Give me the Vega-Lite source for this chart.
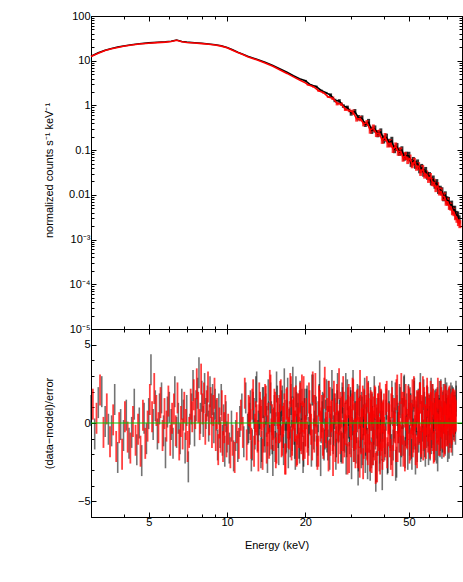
{
"$schema": "https://vega.github.io/schema/vega-lite/v6.json",
"autosize": {"type": "pad"},
"padding": {"left": 42, "top": 9, "right": 1, "bottom": 5},
"background": "white",
"config": {
 "font": "Liberation Sans",
 "view": {"stroke": "#000000", "strokeWidth": 1},
 "axis": {"grid": false, "domainColor": "#000000", "tickColor": "#000000", "labelColor": "#000000", "titleColor": "#000000", "labelFontSize": 11, "titleFontSize": 11, "titleFontWeight": "normal", "labelOverlap": false, "labelFlush": false, "labelBound": false, "tickWidth": 1, "domainWidth": 1}
},
"datasets": {
"spec": [
{"e":3,"g":"1","y":12.6},{"e":3.2,"g":"1","y":15},{"e":3.4,"g":"1","y":17.2},{"e":3.6,"g":"1","y":18.8},{"e":3.8,"g":"1","y":20.2},{"e":4,"g":"1","y":21.4},{"e":4.3,"g":"1","y":22.8},{"e":4.6,"g":"1","y":24},{"e":5,"g":"1","y":25},{"e":5.4,"g":"1","y":25.8},{"e":5.8,"g":"1","y":26.5},{"e":6.1,"g":"1","y":27.2},{"e":6.4,"g":"1","y":29},{"e":6.7,"g":"1","y":27},{"e":7,"g":"1","y":26},{"e":7.5,"g":"1","y":25.3},{"e":8,"g":"1","y":24.5},{"e":8.5,"g":"1","y":23.7},{"e":9,"g":"1","y":22.8},{"e":9.5,"g":"1","y":21.6},{"e":10,"g":"1","y":19.8},{"e":10.5,"g":"1","y":17.5},{"e":11,"g":"1","y":15.5},{"e":11.5,"g":"1","y":14},{"e":12,"g":"1","y":12.6},{"e":13,"g":"1","y":10.8},{"e":14,"g":"1","y":9.2},{"e":15,"g":"1","y":7.8},{"e":16,"g":"1","y":6.5},{"e":17,"g":"1","y":5.5},{"e":18,"g":"1","y":4.6},{"e":19,"g":"1","y":3.95},
{"e":20,"g":"1","y":3.55,"lo":3.39,"hi":3.72},{"e":21,"g":"1","y":2.86,"lo":2.73,"hi":2.99},{"e":22,"g":"1","y":2.65,"lo":2.53,"hi":2.77},{"e":23,"g":"1","y":2.16,"lo":2.06,"hi":2.26},{"e":24,"g":"1","y":1.92,"lo":1.83,"hi":2.01},
{"e":25,"g":"1","y":1.7,"lo":1.55,"hi":1.86},{"e":26,"g":"1","y":1.29,"lo":1.18,"hi":1.41},{"e":27,"g":"1","y":1.26,"lo":1.15,"hi":1.38},{"e":28,"g":"1","y":0.97,"lo":0.885,"hi":1.06},{"e":29,"g":"1","y":0.9,"lo":0.82,"hi":0.99},
{"e":30,"g":"1","y":0.68,"lo":0.59,"hi":0.78},{"e":31,"g":"1","y":0.72,"lo":0.63,"hi":0.83},{"e":32,"g":"1","y":0.53,"lo":0.46,"hi":0.61},{"e":33,"g":"1","y":0.52,"lo":0.455,"hi":0.6},{"e":34,"g":"1","y":0.378,"lo":0.329,"hi":0.434},
{"e":35,"g":"1","y":0.416,"lo":0.346,"hi":0.5},{"e":36,"g":"1","y":0.278,"lo":0.231,"hi":0.334},{"e":37,"g":"1","y":0.297,"lo":0.247,"hi":0.357},{"e":38,"g":"1","y":0.233,"lo":0.194,"hi":0.28},{"e":39,"g":"1","y":0.255,"lo":0.212,"hi":0.307},
{"e":40,"g":"1","y":0.174,"lo":0.141,"hi":0.214},{"e":41,"g":"1","y":0.19,"lo":0.155,"hi":0.234},{"e":42,"g":"1","y":0.146,"lo":0.119,"hi":0.18},{"e":43,"g":"1","y":0.162,"lo":0.132,"hi":0.199},{"e":44,"g":"1","y":0.105,"lo":0.0854,"hi":0.129},{"e":45,"g":"1","y":0.117,"lo":0.095,"hi":0.144},{"e":46,"g":"1","y":0.092,"lo":0.0748,"hi":0.113},{"e":47,"g":"1","y":0.0994,"lo":0.0808,"hi":0.122},{"e":48,"g":"1","y":0.0711,"lo":0.0578,"hi":0.0875},{"e":49,"g":"1","y":0.0749,"lo":0.0609,"hi":0.0921},
{"e":50,"g":"1","y":0.0748,"lo":0.0608,"hi":0.092},{"e":51,"g":"1","y":0.0519,"lo":0.0422,"hi":0.0638},{"e":52,"g":"1","y":0.0572,"lo":0.0465,"hi":0.0704},{"e":53,"g":"1","y":0.047,"lo":0.0382,"hi":0.0578},{"e":54,"g":"1","y":0.0504,"lo":0.041,"hi":0.062},{"e":55,"g":"1","y":0.0373,"lo":0.0303,"hi":0.0459},{"e":56,"g":"1","y":0.04,"lo":0.0325,"hi":0.0492},{"e":57,"g":"1","y":0.0312,"lo":0.0254,"hi":0.0384},{"e":58,"g":"1","y":0.0342,"lo":0.0278,"hi":0.0421},{"e":59,"g":"1","y":0.0267,"lo":0.0217,"hi":0.0328},
{"e":60,"g":"1","y":0.0263,"lo":0.0214,"hi":0.0323},{"e":61,"g":"1","y":0.02,"lo":0.0163,"hi":0.0246},{"e":62,"g":"1","y":0.022,"lo":0.0179,"hi":0.0271},{"e":63,"g":"1","y":0.0169,"lo":0.0137,"hi":0.0208},{"e":64,"g":"1","y":0.0183,"lo":0.0149,"hi":0.0225},{"e":65,"g":"1","y":0.0129,"lo":0.0105,"hi":0.0159},{"e":66,"g":"1","y":0.013,"lo":0.0106,"hi":0.016},{"e":67,"g":"1","y":0.012,"lo":0.00976,"hi":0.0148},{"e":68,"g":"1","y":0.00882,"lo":0.00717,"hi":0.0108},{"e":69,"g":"1","y":0.00974,"lo":0.00792,"hi":0.012},
{"e":70,"g":"1","y":0.00757,"lo":0.00615,"hi":0.00931},{"e":71,"g":"1","y":0.00731,"lo":0.00594,"hi":0.00899},{"e":72,"g":"1","y":0.00577,"lo":0.00469,"hi":0.0071},{"e":73,"g":"1","y":0.00605,"lo":0.00492,"hi":0.00744},{"e":74,"g":"1","y":0.00461,"lo":0.00375,"hi":0.00567},{"e":75,"g":"1","y":0.00464,"lo":0.00377,"hi":0.00571},{"e":76,"g":"1","y":0.00357,"lo":0.0029,"hi":0.00439},{"e":77,"g":"1","y":0.00347,"lo":0.00282,"hi":0.00427},{"e":78,"g":"1","y":0.00284,"lo":0.00231,"hi":0.00349},
{"e":3,"g":"2","y":12.4},{"e":3.2,"g":"2","y":14.7},{"e":3.4,"g":"2","y":16.9},{"e":3.6,"g":"2","y":18.5},{"e":3.8,"g":"2","y":19.8},{"e":4,"g":"2","y":21},{"e":4.3,"g":"2","y":22.4},{"e":4.6,"g":"2","y":23.6},{"e":5,"g":"2","y":24.6},{"e":5.4,"g":"2","y":25.4},{"e":5.8,"g":"2","y":26.1},{"e":6.1,"g":"2","y":26.8},{"e":6.4,"g":"2","y":28.6},{"e":6.7,"g":"2","y":26.6},{"e":7,"g":"2","y":25.6},{"e":7.5,"g":"2","y":24.9},{"e":8,"g":"2","y":24.1},{"e":8.5,"g":"2","y":23.3},{"e":9,"g":"2","y":22.4},{"e":9.5,"g":"2","y":21.2},{"e":10,"g":"2","y":19.4},{"e":10.5,"g":"2","y":17.2},{"e":11,"g":"2","y":15.2},{"e":11.5,"g":"2","y":13.7},{"e":12,"g":"2","y":12.3},{"e":13,"g":"2","y":10.5},{"e":14,"g":"2","y":8.9},{"e":15,"g":"2","y":7.5},{"e":16,"g":"2","y":6.2},{"e":17,"g":"2","y":5.2},{"e":18,"g":"2","y":4.35},{"e":19,"g":"2","y":3.7},{"e":20,"g":"2","y":3.2},
{"e":20.5,"g":"2","y":2.91,"lo":2.78,"hi":3.05},{"e":21.5,"g":"2","y":2.63,"lo":2.51,"hi":2.75},{"e":22.5,"g":"2","y":2.13,"lo":2.03,"hi":2.23},{"e":23.5,"g":"2","y":1.93,"lo":1.84,"hi":2.02},{"e":24.5,"g":"2","y":1.55,"lo":1.48,"hi":1.62},
{"e":25.5,"g":"2","y":1.45,"lo":1.32,"hi":1.59},{"e":26.5,"g":"2","y":1.1,"lo":1.0,"hi":1.21},{"e":27.5,"g":"2","y":1.07,"lo":0.976,"hi":1.17},{"e":28.5,"g":"2","y":0.822,"lo":0.75,"hi":0.9},{"e":29.5,"g":"2","y":0.774,"lo":0.706,"hi":0.848},
{"e":30.5,"g":"2","y":0.706,"lo":0.615,"hi":0.81},{"e":31.5,"g":"2","y":0.498,"lo":0.434,"hi":0.572},{"e":32.5,"g":"2","y":0.508,"lo":0.442,"hi":0.583},{"e":33.5,"g":"2","y":0.39,"lo":0.34,"hi":0.448},{"e":34.5,"g":"2","y":0.41,"lo":0.357,"hi":0.471},
{"e":35.5,"g":"2","y":0.28,"lo":0.233,"hi":0.337},{"e":36.5,"g":"2","y":0.312,"lo":0.26,"hi":0.375},{"e":37.5,"g":"2","y":0.235,"lo":0.196,"hi":0.282},{"e":38.5,"g":"2","y":0.239,"lo":0.199,"hi":0.287},{"e":39.5,"g":"2","y":0.166,"lo":0.138,"hi":0.2},
{"e":40.5,"g":"2","y":0.197,"lo":0.16,"hi":0.242},{"e":41.5,"g":"2","y":0.14,"lo":0.114,"hi":0.172},{"e":42.5,"g":"2","y":0.142,"lo":0.115,"hi":0.175},{"e":43.5,"g":"2","y":0.106,"lo":0.0862,"hi":0.13},{"e":44.5,"g":"2","y":0.121,"lo":0.0984,"hi":0.149},{"e":45.5,"g":"2","y":0.092,"lo":0.0748,"hi":0.113},{"e":46.5,"g":"2","y":0.0943,"lo":0.0767,"hi":0.116},{"e":47.5,"g":"2","y":0.0676,"lo":0.055,"hi":0.0831},{"e":48.5,"g":"2","y":0.0744,"lo":0.0605,"hi":0.0915},{"e":49.5,"g":"2","y":0.0599,"lo":0.0487,"hi":0.0737},
{"e":50.5,"g":"2","y":0.0648,"lo":0.0527,"hi":0.0797},{"e":51.5,"g":"2","y":0.0483,"lo":0.0393,"hi":0.0594},{"e":52.5,"g":"2","y":0.0548,"lo":0.0446,"hi":0.0674},{"e":53.5,"g":"2","y":0.0425,"lo":0.0346,"hi":0.0523},{"e":54.5,"g":"2","y":0.0438,"lo":0.0356,"hi":0.0539},{"e":55.5,"g":"2","y":0.0326,"lo":0.0265,"hi":0.0401},{"e":56.5,"g":"2","y":0.0377,"lo":0.0307,"hi":0.0464},{"e":57.5,"g":"2","y":0.0284,"lo":0.0231,"hi":0.0349},{"e":58.5,"g":"2","y":0.0287,"lo":0.0233,"hi":0.0353},{"e":59.5,"g":"2","y":0.0227,"lo":0.0185,"hi":0.0279},
{"e":60.5,"g":"2","y":0.025,"lo":0.0203,"hi":0.0308},{"e":61.5,"g":"2","y":0.0193,"lo":0.0157,"hi":0.0237},{"e":62.5,"g":"2","y":0.0187,"lo":0.0152,"hi":0.023},{"e":63.5,"g":"2","y":0.0142,"lo":0.0115,"hi":0.0175},{"e":64.5,"g":"2","y":0.0156,"lo":0.0127,"hi":0.0192},{"e":65.5,"g":"2","y":0.0119,"lo":0.00967,"hi":0.0146},{"e":66.5,"g":"2","y":0.0119,"lo":0.00967,"hi":0.0146},{"e":67.5,"g":"2","y":0.00911,"lo":0.00741,"hi":0.0112},{"e":68.5,"g":"2","y":0.00918,"lo":0.00746,"hi":0.0113},{"e":69.5,"g":"2","y":0.00702,"lo":0.00571,"hi":0.00863},
{"e":70.5,"g":"2","y":0.00699,"lo":0.00568,"hi":0.0086},{"e":71.5,"g":"2","y":0.00568,"lo":0.00462,"hi":0.00699},{"e":72.5,"g":"2","y":0.00544,"lo":0.00442,"hi":0.00669},{"e":73.5,"g":"2","y":0.00431,"lo":0.0035,"hi":0.0053},{"e":74.5,"g":"2","y":0.00409,"lo":0.00333,"hi":0.00503},{"e":75.5,"g":"2","y":0.00333,"lo":0.00271,"hi":0.0041},{"e":76.5,"g":"2","y":0.00292,"lo":0.00237,"hi":0.00359},{"e":77.5,"g":"2","y":0.00246,"lo":0.002,"hi":0.00303},{"e":78.5,"g":"2","y":0.00221,"lo":0.0018,"hi":0.00272}
],
"res1": [
{"e":3.0,"r":0.8},{"e":3.1,"r":-0.7},{"e":3.2,"r":1.3},{"e":3.3,"r":2.0},{"e":3.4,"r":0.1},{"e":3.5,"r":-0.4},{"e":3.6,"r":-0.5},{"e":3.7,"r":1.5},{"e":3.8,"r":-2.2},{"e":3.9,"r":-0.1},{"e":4.0,"r":-0.8},{"e":4.1,"r":0.5},{"e":4.2,"r":-1.3},{"e":4.3,"r":-0.6},{"e":4.4,"r":1.2},{"e":4.5,"r":-1.7},{"e":4.6,"r":0.0},{"e":4.7,"r":-2.4},{"e":4.8,"r":0.3},{"e":4.9,"r":-1.0},{"e":5.0,"r":0.6},{"e":5.1,"r":3.4},{"e":5.2,"r":-0.1},{"e":5.3,"r":1.1},{"e":5.4,"r":-0.7},{"e":5.5,"r":0.9},{"e":5.6,"r":1.6},{"e":5.7,"r":-0.5},{"e":5.8,"r":-1.9},{"e":5.9,"r":0.7},{"e":6.0,"r":1.0},{"e":6.1,"r":-0.1},{"e":6.2,"r":-1.3},{"e":6.3,"r":2.0},{"e":6.4,"r":-0.6},{"e":6.5,"r":0.3},{"e":6.6,"r":-1.0},{"e":6.7,"r":1.2},{"e":6.8,"r":0.5},{"e":6.9,"r":-1.6},{"e":7.0,"r":0.8},{"e":7.1,"r":-2.8},{"e":7.2,"r":-0.4},{"e":7.3,"r":0.9},{"e":7.4,"r":2.4},{"e":7.5,"r":-0.5},{"e":7.6,"r":1.1},{"e":7.7,"r":1.9},{"e":7.8,"r":3.2},{"e":7.9,"r":0.3},{"e":8.0,"r":1.7},{"e":8.1,"r":0.1},{"e":8.2,"r":2.2},{"e":8.3,"r":0.6},{"e":8.4,"r":1.4},{"e":8.5,"r":-0.2},{"e":8.6,"r":2.0},{"e":8.7,"r":0.9},{"e":8.8,"r":1.5},{"e":8.9,"r":-0.3},{"e":9.0,"r":1.2},{"e":9.1,"r":0.5},{"e":9.2,"r":-1.4},{"e":9.3,"r":0.9},{"e":9.4,"r":-0.6},{"e":9.5,"r":1.5},{"e":9.6,"r":-1.1},{"e":9.7,"r":0.2},{"e":9.8,"r":-1.8},{"e":9.9,"r":0.4},{"e":10.0,"r":-0.9},
{"e":10.2,"r":-1.6},{"e":10.4,"r":-0.2},{"e":10.6,"r":-2.1},{"e":10.8,"r":-0.8},{"e":11.0,"r":-1.5},{"e":11.2,"r":0.1},{"e":11.4,"r":0.9},{"e":11.6,"r":-1.2},{"e":11.8,"r":1.6},{"e":12.0,"r":-0.4},{"e":12.2,"r":0.3},{"e":12.4,"r":-2.1},{"e":12.6,"r":1.0},{"e":12.8,"r":-0.7},{"e":13.0,"r":2.3},{"e":13.2,"r":-0.2},{"e":13.4,"r":0.6},{"e":13.6,"r":-1.5},{"e":13.8,"r":1.3},{"e":14.0,"r":-0.9},{"e":14.2,"r":0.1},{"e":14.4,"r":1.8},{"e":14.6,"r":-1.1},{"e":14.8,"r":0.4},{"e":15.0,"r":-2.4},{"e":15.2,"r":0.8},{"e":15.4,"r":-0.3},{"e":15.6,"r":1.4},{"e":15.8,"r":-1.7},{"e":16.0,"r":0.2},{"e":16.2,"r":1.1},{"e":16.4,"r":-0.6},{"e":16.6,"r":2.5},{"e":16.8,"r":-1.0},{"e":17.0,"r":0.5},{"e":17.2,"r":-1.9},{"e":17.4,"r":0.0},{"e":17.6,"r":1.5},{"e":17.8,"r":-0.8},{"e":18.0,"r":0.7},{"e":18.2,"r":-1.3},{"e":18.4,"r":2.0},{"e":18.6,"r":-0.4},{"e":18.8,"r":0.9},{"e":19.0,"r":-1.6},{"e":19.2,"r":0.3},{"e":19.4,"r":1.2},{"e":19.6,"r":-2.2},{"e":19.8,"r":0.6},{"e":20.0,"r":-0.5},
{"e":20.3,"r":1.4},{"e":20.6,"r":-1.1},{"e":20.9,"r":0.2},{"e":21.2,"r":2.1},{"e":21.5,"r":-0.7},{"e":21.8,"r":0.8},{"e":22.1,"r":-1.8},{"e":22.4,"r":0.4},{"e":22.7,"r":3.0},{"e":23.0,"r":-0.3},{"e":23.3,"r":1.0},{"e":23.6,"r":-1.4},{"e":23.9,"r":0.5},{"e":24.2,"r":-0.9},{"e":24.5,"r":1.7},{"e":24.8,"r":-2.0},{"e":25.1,"r":0.1},{"e":25.4,"r":1.2},{"e":25.7,"r":-0.5},{"e":26.0,"r":0.9},{"e":26.3,"r":-1.2},{"e":26.6,"r":2.2},{"e":26.9,"r":-0.2},{"e":27.2,"r":0.6},{"e":27.5,"r":-1.6},{"e":27.8,"r":1.3},{"e":28.1,"r":-0.8},{"e":28.4,"r":0.3},{"e":28.7,"r":-2.3},{"e":29.0,"r":1.8},{"e":29.3,"r":0.0},{"e":29.6,"r":-1.0},{"e":29.9,"r":1.1},{"e":30.2,"r":-0.6},{"e":30.5,"r":2.4},{"e":30.8,"r":-1.5},{"e":31.1,"r":0.4},{"e":31.4,"r":-0.3},{"e":31.7,"r":1.5},{"e":32.0,"r":-2.1},{"e":32.3,"r":0.7},{"e":32.6,"r":-0.9},{"e":32.9,"r":1.0},{"e":33.2,"r":-1.7},{"e":33.5,"r":0.2},{"e":33.8,"r":1.9},{"e":34.1,"r":-1.1},{"e":34.4,"r":0.5},{"e":34.7,"r":-2.6},{"e":35.0,"r":0.9},{"e":35.3,"r":-0.4},{"e":35.6,"r":1.3},{"e":35.9,"r":-1.9},{"e":36.2,"r":0.1},{"e":36.5,"r":-1.2},{"e":36.8,"r":2.0},{"e":37.1,"r":-0.7},{"e":37.4,"r":-2.8},{"e":37.7,"r":0.6},{"e":38.0,"r":-0.5},{"e":38.3,"r":1.4},{"e":38.6,"r":-1.6},{"e":38.9,"r":-0.2},{"e":39.2,"r":1.1},{"e":39.5,"r":-3.3},{"e":39.8,"r":0.3},
{"e":40.5,"r":-1.0},{"e":41.0,"r":1.2},{"e":41.5,"r":-2.2},{"e":42.0,"r":0.4},{"e":42.5,"r":-0.8},{"e":43.0,"r":1.7},{"e":43.5,"r":-1.4},{"e":44.0,"r":0.0},{"e":44.5,"r":-2.7},{"e":45.0,"r":0.8},{"e":45.5,"r":-0.3},{"e":46.0,"r":1.5},{"e":46.5,"r":-1.8},{"e":47.0,"r":0.6},{"e":47.5,"r":-1.1},{"e":48.0,"r":2.1},{"e":48.5,"r":-0.5},{"e":49.0,"r":0.9},{"e":49.5,"r":-2.0},{"e":50.0,"r":0.3},{"e":50.5,"r":1.3},{"e":51.0,"r":-1.3},{"e":51.5,"r":0.5},{"e":52.0,"r":-0.7},{"e":52.5,"r":1.9},{"e":53.0,"r":-2.3},{"e":53.5,"r":0.2},{"e":54.0,"r":1.0},{"e":54.5,"r":-0.9},{"e":55.0,"r":1.6},{"e":55.5,"r":-1.5},{"e":56.0,"r":0.4},{"e":56.5,"r":-0.2},{"e":57.0,"r":1.8},{"e":57.5,"r":-1.2},{"e":58.0,"r":0.7},{"e":58.5,"r":-0.6},{"e":59.0,"r":1.3},{"e":59.5,"r":-1.7},{"e":60.0,"r":0.1},{"e":60.5,"r":0.9},{"e":61.0,"r":-1.0},{"e":61.5,"r":1.5},{"e":62.0,"r":-0.4},{"e":62.5,"r":0.6},{"e":63.0,"r":-1.4},{"e":63.5,"r":1.2},{"e":64.0,"r":0.0},{"e":64.5,"r":-2.1},{"e":65.0,"r":0.8},{"e":65.5,"r":1.7},{"e":66.0,"r":-0.8},{"e":66.5,"r":0.4},{"e":67.0,"r":-1.3},{"e":67.5,"r":1.0},{"e":68.0,"r":0.3},{"e":68.5,"r":-0.9},{"e":69.0,"r":1.9},{"e":69.5,"r":-0.1},{"e":70.0,"r":0.6},{"e":70.5,"r":-1.5},{"e":71.0,"r":1.2},{"e":71.5,"r":0.2},{"e":72.0,"r":-0.6},{"e":72.5,"r":1.6},{"e":73.0,"r":0.5},{"e":73.5,"r":-1.1},{"e":74.0,"r":1.3},{"e":74.5,"r":0.1},{"e":75.0,"r":0.8},{"e":75.5,"r":-0.4},{"e":76.0,"r":1.4},
{"e":12.1,"r":-0.3},{"e":12.3,"r":1.1},{"e":12.5,"r":-1.4},{"e":12.7,"r":0.6},{"e":12.9,"r":2.0},{"e":13.1,"r":-0.8},{"e":13.3,"r":0.2},{"e":13.5,"r":-1.9},{"e":13.7,"r":1.3},{"e":13.9,"r":-0.5},{"e":14.1,"r":0.9},{"e":14.3,"r":-2.2},{"e":14.5,"r":0.4},{"e":14.7,"r":1.6},{"e":14.9,"r":-1.0},{"e":15.1,"r":0.0},{"e":15.3,"r":-1.5},{"e":15.5,"r":2.3},{"e":15.7,"r":-0.6},{"e":15.9,"r":0.8},{"e":16.1,"r":-0.2},{"e":16.3,"r":1.4},{"e":16.5,"r":-1.7},{"e":16.7,"r":0.5},{"e":16.9,"r":-0.9},{"e":17.1,"r":1.9},{"e":17.3,"r":-0.1},{"e":17.5,"r":-1.2},{"e":17.7,"r":0.7},{"e":17.9,"r":2.6},{"e":18.1,"r":-0.4},{"e":18.3,"r":-2.0},{"e":18.5,"r":1.0},{"e":18.7,"r":0.3},{"e":18.9,"r":-1.3},{"e":19.1,"r":1.7},{"e":19.3,"r":-0.7},{"e":19.5,"r":0.1},{"e":19.7,"r":-1.8},{"e":19.9,"r":1.2},
{"e":20.2,"r":1.2},{"e":20.5,"r":-0.6},{"e":20.8,"r":0.3},{"e":21.1,"r":-1.8},{"e":21.4,"r":2.1},{"e":21.7,"r":-0.2},{"e":22.0,"r":0.7},{"e":22.3,"r":-1.1},{"e":22.6,"r":1.5},{"e":22.9,"r":-2.4},{"e":23.2,"r":0.4},{"e":23.5,"r":0.9},{"e":23.8,"r":-0.7},{"e":24.1,"r":1.8},{"e":24.4,"r":-1.4},{"e":24.7,"r":0.1},{"e":25.0,"r":-0.4},{"e":25.3,"r":2.4},{"e":25.6,"r":-1.0},{"e":25.9,"r":0.6},{"e":26.2,"r":-2.0},{"e":26.5,"r":1.1},{"e":26.8,"r":-0.3},{"e":27.1,"r":0.5},{"e":27.4,"r":-1.5},{"e":27.7,"r":1.6},{"e":28.0,"r":0.0},{"e":28.3,"r":-0.9},{"e":28.6,"r":2.2},{"e":28.9,"r":-1.2},{"e":29.2,"r":0.8},{"e":29.5,"r":-0.5},{"e":29.8,"r":1.3},{"e":30.1,"r":-2.6},{"e":30.4,"r":0.2},{"e":30.7,"r":-0.8},{"e":31.0,"r":1.0},{"e":31.3,"r":-1.6},{"e":31.6,"r":0.4},{"e":31.9,"r":-3.0},{"e":32.2,"r":1.4},{"e":32.5,"r":-0.6},{"e":32.8,"r":-1.9},{"e":33.1,"r":0.7},{"e":33.4,"r":-0.1},{"e":33.7,"r":1.1},{"e":34.0,"r":-2.2},{"e":34.3,"r":0.3},{"e":34.6,"r":-1.3},{"e":34.9,"r":1.7},{"e":35.2,"r":-0.9},{"e":35.5,"r":-2.7},{"e":35.8,"r":0.5},{"e":36.1,"r":0.9},{"e":36.4,"r":-1.7},{"e":36.7,"r":-0.4},{"e":37.0,"r":1.2},{"e":37.3,"r":-3.4},{"e":37.6,"r":0.0},{"e":37.9,"r":-1.1},{"e":38.2,"r":0.6},{"e":38.5,"r":-2.1},{"e":38.8,"r":-0.7},{"e":39.1,"r":1.0},{"e":39.4,"r":-1.4},{"e":39.7,"r":-0.2},
{"e":40.35,"r":-1.4},{"e":40.85,"r":0.5},{"e":41.35,"r":-2.3},{"e":41.85,"r":1.1},{"e":42.35,"r":-0.6},{"e":42.85,"r":-1.7},{"e":43.35,"r":0.8},{"e":43.85,"r":-0.2},{"e":44.35,"r":1.6},{"e":44.85,"r":-2.5},{"e":45.35,"r":0.3},{"e":45.85,"r":-0.9},{"e":46.35,"r":1.3},{"e":46.85,"r":-1.2},{"e":47.35,"r":0.6},{"e":47.85,"r":2.0},{"e":48.35,"r":-1.9},{"e":48.85,"r":0.0},{"e":49.35,"r":-0.4},{"e":49.85,"r":1.5},{"e":50.35,"r":-1.1},{"e":50.85,"r":0.9},{"e":51.35,"r":-2.0},{"e":51.85,"r":0.2},{"e":52.35,"r":1.7},{"e":52.85,"r":-0.7},{"e":53.35,"r":0.4},{"e":53.85,"r":-1.5},{"e":54.35,"r":1.2},{"e":54.85,"r":-0.3},{"e":55.35,"r":2.2},{"e":55.85,"r":-1.3},{"e":56.35,"r":0.7},{"e":56.85,"r":-0.8},{"e":57.35,"r":1.0},{"e":57.85,"r":-1.8},{"e":58.35,"r":0.1},{"e":58.85,"r":1.4},{"e":59.35,"r":-0.5},{"e":59.85,"r":0.8},{"e":60.35,"r":-1.4},{"e":60.85,"r":1.9},{"e":61.35,"r":-0.6},{"e":61.85,"r":0.3},{"e":62.35,"r":-1.0},{"e":62.85,"r":1.1},{"e":63.35,"r":0.5},{"e":63.85,"r":-1.6},{"e":64.35,"r":1.3},{"e":64.85,"r":-0.2},{"e":65.35,"r":0.6},{"e":65.85,"r":-1.2},{"e":66.35,"r":1.8},{"e":66.85,"r":0.0},{"e":67.35,"r":-0.9},{"e":67.85,"r":1.5},{"e":68.35,"r":0.4},{"e":68.85,"r":-1.1},{"e":69.35,"r":0.9},{"e":69.85,"r":1.6},{"e":70.35,"r":-0.4},{"e":70.85,"r":0.7},{"e":71.35,"r":-1.3},{"e":71.85,"r":1.2},{"e":72.35,"r":0.2},{"e":72.85,"r":-0.6},{"e":73.35,"r":1.4},{"e":73.85,"r":0.8},{"e":74.35,"r":-0.1},{"e":74.85,"r":1.0},{"e":75.35,"r":0.3},{"e":75.85,"r":1.7}
],
"res2": [
{"e":3.05,"r":1.2},{"e":3.15,"r":0.3},{"e":3.25,"r":2.1},{"e":3.35,"r":-0.6},{"e":3.45,"r":0.9},{"e":3.55,"r":-1.2},{"e":3.65,"r":0.2},{"e":3.75,"r":-1.5},{"e":3.85,"r":-0.3},{"e":3.95,"r":-2.0},{"e":4.05,"r":0.4},{"e":4.15,"r":-0.9},{"e":4.25,"r":-1.6},{"e":4.35,"r":0.1},{"e":4.45,"r":-1.1},{"e":4.55,"r":-0.4},{"e":4.65,"r":-1.8},{"e":4.75,"r":0.5},{"e":4.85,"r":-1.3},{"e":4.95,"r":-0.2},{"e":5.05,"r":1.5},{"e":5.15,"r":0.4},{"e":5.25,"r":2.2},{"e":5.35,"r":0.8},{"e":5.45,"r":-0.3},{"e":5.55,"r":1.3},{"e":5.65,"r":-0.8},{"e":5.75,"r":0.6},{"e":5.85,"r":-0.2},{"e":5.95,"r":1.4},{"e":6.05,"r":-1.1},{"e":6.15,"r":0.3},{"e":6.25,"r":0.9},{"e":6.35,"r":-0.5},{"e":6.45,"r":1.6},{"e":6.55,"r":-1.4},{"e":6.65,"r":0.1},{"e":6.75,"r":-0.7},{"e":6.85,"r":1.0},{"e":6.95,"r":-0.1},{"e":7.05,"r":-1.5},{"e":7.15,"r":-0.6},{"e":7.25,"r":1.2},{"e":7.35,"r":0.4},{"e":7.45,"r":1.8},{"e":7.55,"r":0.6},{"e":7.65,"r":2.5},{"e":7.75,"r":1.0},{"e":7.85,"r":-0.1},{"e":7.95,"r":2.8},{"e":8.05,"r":0.9},{"e":8.15,"r":1.6},{"e":8.25,"r":-0.4},{"e":8.35,"r":1.1},{"e":8.45,"r":2.3},{"e":8.55,"r":0.2},{"e":8.65,"r":1.3},{"e":8.75,"r":-0.6},{"e":8.85,"r":0.8},{"e":8.95,"r":1.9},{"e":9.05,"r":-0.8},{"e":9.15,"r":0.6},{"e":9.25,"r":-1.7},{"e":9.35,"r":0.0},{"e":9.45,"r":-0.9},{"e":9.55,"r":1.1},{"e":9.65,"r":-1.5},{"e":9.75,"r":-0.3},{"e":9.85,"r":0.8},{"e":9.95,"r":-1.2},
{"e":10.1,"r":-0.4},{"e":10.3,"r":-1.9},{"e":10.5,"r":-1.1},{"e":10.7,"r":-2.2},{"e":10.9,"r":-0.3},{"e":11.1,"r":-1.3},{"e":11.3,"r":0.5},{"e":11.5,"r":-0.6},{"e":11.7,"r":1.9},{"e":11.9,"r":-1.4},{"e":12.1,"r":0.8},{"e":12.3,"r":-0.1},{"e":12.5,"r":1.2},{"e":12.7,"r":-1.8},{"e":12.9,"r":0.4},{"e":13.1,"r":-0.9},{"e":13.3,"r":1.6},{"e":13.5,"r":0.1},{"e":13.7,"r":-2.0},{"e":13.9,"r":0.7},{"e":14.1,"r":1.4},{"e":14.3,"r":-0.5},{"e":14.5,"r":-1.3},{"e":14.7,"r":2.1},{"e":14.9,"r":0.2},{"e":15.1,"r":-0.8},{"e":15.3,"r":1.0},{"e":15.5,"r":-1.6},{"e":15.7,"r":0.6},{"e":15.9,"r":-0.3},{"e":16.1,"r":1.8},{"e":16.3,"r":-1.1},{"e":16.5,"r":0.3},{"e":16.7,"r":-2.3},{"e":16.9,"r":1.2},{"e":17.1,"r":0.0},{"e":17.3,"r":-0.7},{"e":17.5,"r":2.2},{"e":17.7,"r":-1.4},{"e":17.9,"r":0.5},{"e":18.1,"r":1.3},{"e":18.3,"r":-0.2},{"e":18.5,"r":-1.8},{"e":18.7,"r":0.9},{"e":18.9,"r":-0.6},{"e":19.1,"r":1.6},{"e":19.3,"r":-1.0},{"e":19.5,"r":0.4},{"e":19.7,"r":2.0},{"e":19.9,"r":-1.3},
{"e":20.15,"r":0.6},{"e":20.45,"r":-1.7},{"e":20.75,"r":1.1},{"e":21.05,"r":-0.4},{"e":21.35,"r":2.3},{"e":21.65,"r":-0.9},{"e":21.95,"r":0.3},{"e":22.25,"r":-2.0},{"e":22.55,"r":1.4},{"e":22.85,"r":-0.2},{"e":23.15,"r":0.8},{"e":23.45,"r":-1.3},{"e":23.75,"r":2.6},{"e":24.05,"r":-0.6},{"e":24.35,"r":0.1},{"e":24.65,"r":1.7},{"e":24.95,"r":-1.1},{"e":25.25,"r":0.5},{"e":25.55,"r":-2.4},{"e":25.85,"r":0.9},{"e":26.15,"r":-0.3},{"e":26.45,"r":1.5},{"e":26.75,"r":-1.6},{"e":27.05,"r":0.2},{"e":27.35,"r":1.0},{"e":27.65,"r":-0.8},{"e":27.95,"r":2.0},{"e":28.25,"r":-1.2},{"e":28.55,"r":0.4},{"e":28.85,"r":-0.5},{"e":29.15,"r":1.3},{"e":29.45,"r":-2.2},{"e":29.75,"r":0.7},{"e":30.05,"r":-0.1},{"e":30.35,"r":1.9},{"e":30.65,"r":-1.5},{"e":30.95,"r":0.3},{"e":31.25,"r":-0.7},{"e":31.55,"r":1.1},{"e":31.85,"r":-1.9},{"e":32.15,"r":0.6},{"e":32.45,"r":2.4},{"e":32.75,"r":-1.0},{"e":33.05,"r":0.0},{"e":33.35,"r":-2.6},{"e":33.65,"r":1.2},{"e":33.95,"r":-0.4},{"e":34.25,"r":0.8},{"e":34.55,"r":-1.4},{"e":34.85,"r":1.6},{"e":35.15,"r":-0.9},{"e":35.45,"r":-2.1},{"e":35.75,"r":0.5},{"e":36.05,"r":1.0},{"e":36.35,"r":-1.7},{"e":36.65,"r":-0.2},{"e":36.95,"r":1.4},{"e":37.25,"r":-2.9},{"e":37.55,"r":0.2},{"e":37.85,"r":-1.1},{"e":38.15,"r":0.9},{"e":38.45,"r":-0.6},{"e":38.75,"r":-2.3},{"e":39.05,"r":1.2},{"e":39.35,"r":-0.8},{"e":39.65,"r":0.4},{"e":39.95,"r":-1.5},
{"e":40.25,"r":-0.6},{"e":40.75,"r":1.5},{"e":41.25,"r":-1.9},{"e":41.75,"r":0.3},{"e":42.25,"r":-1.2},{"e":42.75,"r":0.9},{"e":43.25,"r":-2.4},{"e":43.75,"r":0.6},{"e":44.25,"r":-0.3},{"e":44.75,"r":1.8},{"e":45.25,"r":-1.5},{"e":45.75,"r":0.1},{"e":46.25,"r":-0.9},{"e":46.75,"r":2.2},{"e":47.25,"r":-0.4},{"e":47.75,"r":1.0},{"e":48.25,"r":-2.1},{"e":48.75,"r":0.5},{"e":49.25,"r":-0.7},{"e":49.75,"r":1.4},{"e":50.25,"r":-1.6},{"e":50.75,"r":0.8},{"e":51.25,"r":0.0},{"e":51.75,"r":-1.2},{"e":52.25,"r":2.0},{"e":52.75,"r":-0.5},{"e":53.25,"r":0.7},{"e":53.75,"r":-1.9},{"e":54.25,"r":1.1},{"e":54.75,"r":-0.2},{"e":55.25,"r":1.6},{"e":55.75,"r":-1.0},{"e":56.25,"r":0.4},{"e":56.75,"r":-1.4},{"e":57.25,"r":1.3},{"e":57.75,"r":-0.6},{"e":58.25,"r":0.2},{"e":58.75,"r":1.9},{"e":59.25,"r":-0.9},{"e":59.75,"r":0.6},{"e":60.25,"r":-1.3},{"e":60.75,"r":1.0},{"e":61.25,"r":-0.1},{"e":61.75,"r":1.5},{"e":62.25,"r":-1.6},{"e":62.75,"r":0.3},{"e":63.25,"r":0.9},{"e":63.75,"r":-0.8},{"e":64.25,"r":1.2},{"e":64.75,"r":-0.4},{"e":65.25,"r":0.5},{"e":65.75,"r":-1.1},{"e":66.25,"r":1.7},{"e":66.75,"r":0.0},{"e":67.25,"r":-0.7},{"e":67.75,"r":1.1},{"e":68.25,"r":0.4},{"e":68.75,"r":-1.0},{"e":69.25,"r":1.4},{"e":69.75,"r":0.2},{"e":70.25,"r":-0.5},{"e":70.75,"r":0.8},{"e":71.25,"r":1.3},{"e":71.75,"r":-0.3},{"e":72.25,"r":0.6},{"e":72.75,"r":-0.9},{"e":73.25,"r":1.0},{"e":73.75,"r":0.3},{"e":74.25,"r":1.2},{"e":74.75,"r":-0.2},{"e":75.25,"r":0.7},{"e":75.75,"r":0.5},
{"e":12.2,"r":0.7},{"e":12.4,"r":-1.3},{"e":12.6,"r":1.8},{"e":12.8,"r":-0.4},{"e":13.0,"r":0.2},{"e":13.2,"r":-2.1},{"e":13.4,"r":1.0},{"e":13.6,"r":0.5},{"e":13.8,"r":-0.9},{"e":14.0,"r":1.5},{"e":14.2,"r":-1.6},{"e":14.4,"r":0.3},{"e":14.6,"r":2.4},{"e":14.8,"r":-0.7},{"e":15.0,"r":-0.1},{"e":15.2,"r":1.2},{"e":15.4,"r":-1.9},{"e":15.6,"r":0.8},{"e":15.8,"r":-0.3},{"e":16.0,"r":1.7},{"e":16.2,"r":-1.2},{"e":16.4,"r":0.1},{"e":16.6,"r":0.9},{"e":16.8,"r":-2.3},{"e":17.0,"r":1.3},{"e":17.2,"r":-0.6},{"e":17.4,"r":0.4},{"e":17.6,"r":2.0},{"e":17.8,"r":-1.1},{"e":18.0,"r":0.6},{"e":18.2,"r":-0.2},{"e":18.4,"r":1.4},{"e":18.6,"r":-1.7},{"e":18.8,"r":0.0},{"e":19.0,"r":1.1},{"e":19.2,"r":-0.8},{"e":19.4,"r":2.1},{"e":19.6,"r":-1.4},{"e":19.8,"r":0.3},{"e":20.0,"r":-0.5},
{"e":20.35,"r":-0.9},{"e":20.65,"r":1.6},{"e":20.95,"r":0.2},{"e":21.25,"r":-1.4},{"e":21.55,"r":0.8},{"e":21.85,"r":2.2},{"e":22.15,"r":-0.5},{"e":22.45,"r":-1.8},{"e":22.75,"r":1.1},{"e":23.05,"r":0.0},{"e":23.35,"r":-1.1},{"e":23.65,"r":1.9},{"e":23.95,"r":-0.3},{"e":24.25,"r":0.6},{"e":24.55,"r":-2.1},{"e":24.85,"r":1.3},{"e":25.15,"r":0.4},{"e":25.45,"r":-0.8},{"e":25.75,"r":1.7},{"e":26.05,"r":-1.5},{"e":26.35,"r":0.3},{"e":26.65,"r":-0.2},{"e":26.95,"r":2.5},{"e":27.25,"r":-1.0},{"e":27.55,"r":0.7},{"e":27.85,"r":-1.6},{"e":28.15,"r":1.0},{"e":28.45,"r":-0.4},{"e":28.75,"r":0.5},{"e":29.05,"r":-2.3},{"e":29.35,"r":1.5},{"e":29.65,"r":0.1},{"e":29.95,"r":-1.2},{"e":30.25,"r":0.9},{"e":30.55,"r":1.8},{"e":30.85,"r":-0.7},{"e":31.15,"r":-1.9},{"e":31.45,"r":0.4},{"e":31.75,"r":1.2},{"e":32.05,"r":-0.6},{"e":32.35,"r":-2.5},{"e":32.65,"r":0.8},{"e":32.95,"r":-0.1},{"e":33.25,"r":1.4},{"e":33.55,"r":-1.3},{"e":33.85,"r":0.2},{"e":34.15,"r":-0.9},{"e":34.45,"r":2.0},{"e":34.75,"r":-1.7},{"e":35.05,"r":0.6},{"e":35.35,"r":-0.3},{"e":35.65,"r":1.1},{"e":35.95,"r":-2.2},{"e":36.25,"r":0.0},{"e":36.55,"r":0.7},{"e":36.85,"r":-1.4},{"e":37.15,"r":1.3},{"e":37.45,"r":-0.5},{"e":37.75,"r":-2.8},{"e":38.05,"r":0.9},{"e":38.35,"r":-0.8},{"e":38.65,"r":1.6},{"e":38.95,"r":-1.1},{"e":39.25,"r":0.3},{"e":39.55,"r":-2.0},{"e":39.85,"r":0.5},
{"e":40.1,"r":0.9},{"e":40.6,"r":-1.2},{"e":41.1,"r":1.7},{"e":41.6,"r":-0.5},{"e":42.1,"r":0.2},{"e":42.6,"r":-2.0},{"e":43.1,"r":1.3},{"e":43.6,"r":-0.8},{"e":44.1,"r":0.6},{"e":44.6,"r":-1.5},{"e":45.1,"r":2.1},{"e":45.6,"r":-0.3},{"e":46.1,"r":0.4},{"e":46.6,"r":-1.1},{"e":47.1,"r":1.0},{"e":47.6,"r":-1.8},{"e":48.1,"r":0.7},{"e":48.6,"r":1.5},{"e":49.1,"r":-0.6},{"e":49.6,"r":-0.1},{"e":50.1,"r":1.2},{"e":50.6,"r":-1.4},{"e":51.1,"r":0.3},{"e":51.6,"r":1.8},{"e":52.1,"r":-0.9},{"e":52.6,"r":0.5},{"e":53.1,"r":-1.7},{"e":53.6,"r":1.1},{"e":54.1,"r":0.0},{"e":54.6,"r":-0.4},{"e":55.1,"r":1.6},{"e":55.6,"r":-1.2},{"e":56.1,"r":0.8},{"e":56.6,"r":2.0},{"e":57.1,"r":-0.7},{"e":57.6,"r":0.2},{"e":58.1,"r":-1.3},{"e":58.6,"r":1.4},{"e":59.1,"r":-0.2},{"e":59.6,"r":0.9},{"e":60.1,"r":-1.0},{"e":60.6,"r":1.7},{"e":61.1,"r":0.4},{"e":61.6,"r":-0.8},{"e":62.1,"r":1.2},{"e":62.6,"r":-1.5},{"e":63.1,"r":0.6},{"e":63.6,"r":1.0},{"e":64.1,"r":-0.3},{"e":64.6,"r":1.9},{"e":65.1,"r":-1.1},{"e":65.6,"r":0.5},{"e":66.1,"r":0.1},{"e":66.6,"r":1.3},{"e":67.1,"r":-0.6},{"e":67.6,"r":0.8},{"e":68.1,"r":-1.2},{"e":68.6,"r":1.5},{"e":69.1,"r":0.3},{"e":69.6,"r":-0.5},{"e":70.1,"r":1.1},{"e":70.6,"r":0.6},{"e":71.1,"r":-0.9},{"e":71.6,"r":1.4},{"e":72.1,"r":0.0},{"e":72.6,"r":0.9},{"e":73.1,"r":-0.4},{"e":73.6,"r":1.2},{"e":74.1,"r":0.7},{"e":74.6,"r":0.2},{"e":75.1,"r":1.1},{"e":75.6,"r":0.4}
]
},
"vconcat": [
{
 "width": 371, "height": 313,
 "layer": [
  {"data": {"name": "spec"},
   "mark": {"type": "rule", "opacity": 0.8, "strokeWidth": 3},
   "encoding": {
    "x": {"field": "e", "type": "quantitative", "scale": {"type": "log", "domain": [3, 80], "nice": false},
     "axis": {"orient": "bottom", "values": [4,5,6,7,8,9,10,20,30,40,50,60,70], "labels": false, "title": null,
      "tickSize": {"condition": {"test": "indexof([5,10,20,50],datum.value)>=0", "value": -5}, "value": -3}}},
    "y": {"field": "lo", "type": "quantitative", "scale": {"type": "log", "domain": [0.00001, 100], "nice": false},
     "axis": {"orient": "left", "title": "normalized counts s⁻¹ keV⁻¹", "titleX": -42, "titleY": 154, "titleBaseline": "middle", "titleAlign": "center", "titleAngle": -90,
      "values": [0.00001,0.00002,0.00003,0.00004,0.00005,0.00006,0.00007,0.00008,0.00009,0.0001,0.0002,0.0003,0.0004,0.0005,0.0006,0.0007,0.0008,0.0009,0.001,0.002,0.003,0.004,0.005,0.006,0.007,0.008,0.009,0.01,0.02,0.03,0.04,0.05,0.06,0.07,0.08,0.09,0.1,0.2,0.3,0.4,0.5,0.6,0.7,0.8,0.9,1,2,3,4,5,6,7,8,9,10,20,30,40,50,60,70,80,90,100],
      "labelExpr": "datum.value==100?'100':datum.value==10?'10':datum.value==1?'1':datum.value==0.1?'0.1':datum.value==0.01?'0.01':datum.value==0.001?'10⁻³':datum.value==0.0001?'10⁻⁴':datum.value==0.00001?'10⁻⁵':''",
      "labelPadding": 6,
      "tickSize": {"condition": {"test": "indexof([100,10,1,0.1,0.01,0.001,0.0001,0.00001],datum.value)>=0", "value": -5}, "value": -3}}},
    "y2": {"field": "hi"},
    "color": {"field": "g", "type": "nominal", "scale": {"domain": ["1","2"], "range": ["#000000","#ff0000"]}, "legend": null}
   }},
  {"data": {"name": "spec"},
   "mark": {"type": "line", "strokeWidth": 1.6},
   "encoding": {
    "x": {"field": "e", "type": "quantitative", "axis": null},
    "y": {"field": "y", "type": "quantitative", "axis": null},
    "color": {"field": "g", "type": "nominal", "legend": null}
   }},
  {"data": {"name": "spec"},
   "mark": {"type": "point", "opacity": 0},
   "encoding": {
    "x": {"field": "e", "type": "quantitative",
     "axis": {"orient": "top", "values": [4,5,6,7,8,9,10,20,30,40,50,60,70], "labels": false, "title": null,
      "tickSize": {"condition": {"test": "indexof([5,10,20,50],datum.value)>=0", "value": -5}, "value": -3}}},
    "y": {"field": "y", "type": "quantitative",
     "axis": {"orient": "right", "labels": false, "title": null,
      "values": [0.00001,0.00002,0.00003,0.00004,0.00005,0.00006,0.00007,0.00008,0.00009,0.0001,0.0002,0.0003,0.0004,0.0005,0.0006,0.0007,0.0008,0.0009,0.001,0.002,0.003,0.004,0.005,0.006,0.007,0.008,0.009,0.01,0.02,0.03,0.04,0.05,0.06,0.07,0.08,0.09,0.1,0.2,0.3,0.4,0.5,0.6,0.7,0.8,0.9,1,2,3,4,5,6,7,8,9,10,20,30,40,50,60,70,80,90,100],
      "tickSize": {"condition": {"test": "indexof([100,10,1,0.1,0.01,0.001,0.0001,0.00001],datum.value)>=0", "value": -5}, "value": -3}}}
   }}
 ],
 "resolve": {"axis": {"x": "independent", "y": "independent"}}
},
{
 "width": 371, "height": 188,
 "layer": [
  {"data": {"name": "res1"},
   "mark": {"type": "tick", "orient": "vertical", "size": 31, "thickness": 1.6, "color": "#000000", "opacity": 0.55},
   "encoding": {
    "x": {"field": "e", "type": "quantitative", "scale": {"type": "log", "domain": [3, 80], "nice": false},
     "axis": {"orient": "bottom", "values": [4,5,6,7,8,9,10,20,30,40,50,60,70], "title": "Energy (keV)",
      "labelExpr": "indexof([5,10,20,50],datum.value)>=0?format(datum.value,'d'):''", "labelPadding": 4, "titlePadding": 10,
      "tickSize": {"condition": {"test": "indexof([5,10,20,50],datum.value)>=0", "value": -5}, "value": -3}}},
    "y": {"field": "r", "type": "quantitative", "scale": {"domain": [-6, 6], "nice": false, "zero": false},
     "axis": {"orient": "left", "title": "(data−model)/error", "titleX": -42, "titleY": 94, "titleBaseline": "middle", "titleAlign": "center", "titleAngle": -90,
      "values": [-5,-4,-3,-2,-1,0,1,2,3,4,5],
      "labelExpr": "datum.value==5?'5':datum.value==0?'0':datum.value==-5?'−5':''", "labelPadding": 6,
      "tickSize": {"condition": {"test": "indexof([-5,0,5],datum.value)>=0", "value": -5}, "value": -3}}}
   }},
  {"data": {"name": "res2"},
   "mark": {"type": "tick", "orient": "vertical", "size": 31, "thickness": 1.8, "color": "#ff0000", "opacity": 0.75},
   "encoding": {
    "x": {"field": "e", "type": "quantitative", "axis": null},
    "y": {"field": "r", "type": "quantitative", "axis": null}
   }},
  {"data": {"values": [{}]},
   "mark": {"type": "rule", "color": "#00cc00", "strokeWidth": 1.2},
   "encoding": {"y": {"datum": 0, "type": "quantitative", "axis": null}}},
  {"data": {"name": "res1"},
   "mark": {"type": "point", "opacity": 0},
   "encoding": {
    "x": {"field": "e", "type": "quantitative",
     "axis": {"orient": "top", "values": [4,5,6,7,8,9,10,20,30,40,50,60,70], "labels": false, "title": null,
      "tickSize": {"condition": {"test": "indexof([5,10,20,50],datum.value)>=0", "value": -5}, "value": -3}}},
    "y": {"field": "r", "type": "quantitative",
     "axis": {"orient": "right", "labels": false, "title": null, "values": [-5,-4,-3,-2,-1,0,1,2,3,4,5],
      "tickSize": {"condition": {"test": "indexof([-5,0,5],datum.value)>=0", "value": -5}, "value": -3}}}
   }}
 ],
 "resolve": {"axis": {"x": "independent", "y": "independent"}}
}
],
"spacing": 0,
"bounds": "flush"
}
